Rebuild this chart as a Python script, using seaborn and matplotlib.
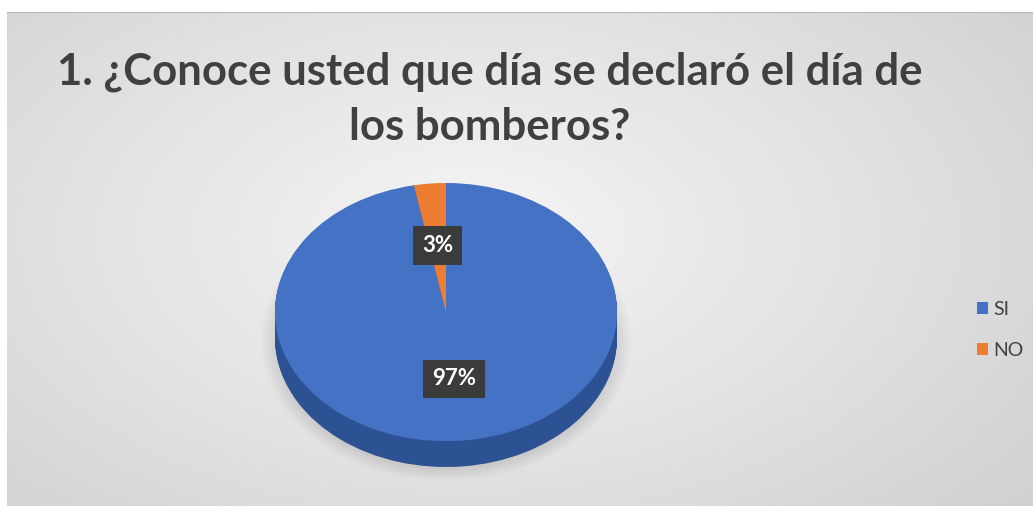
import numpy as np
import seaborn as sns
import matplotlib.pyplot as plt
from matplotlib.patches import Rectangle

# data
categories = ["SI", "NO"]
percentages = [97, 3]
title_lines = ["1. ¿Conoce usted que día se declaró el día de", "los bomberos?"]

sns.set_style("white")
plt.rcParams['font.family'] = ['Lato', 'DejaVu Sans']

colors = sns.color_palette(["#4472C4", "#ED7D31"])
side_colors = sns.color_palette(["#2C5293", "#B35C22"])

W, H = 1033, 507
fig = plt.figure(figsize=(W / 100, H / 100), dpi=100)
fig.patch.set_facecolor("white")

# gradient background of the chart area
bg = fig.add_axes([7 / W, 1 / H, (W - 7) / W, (506 - 12) / H])
yy, xx = np.mgrid[0:1:200j, 0:1:400j]
r = np.sqrt(((xx - 0.45) / 0.75) ** 2 + ((yy - 0.55) / 0.9) ** 2)
shade = 0.96 - 0.15 * np.clip(r, 0, 1.2)
bg.imshow(shade, cmap="gray", vmin=0, vmax=1, aspect="auto",
          extent=[0, 1, 0, 1], origin="lower")
bg.plot([0, 1], [1, 1], color="#b5b5b5", lw=1.5)
bg.set_xlim(0, 1)
bg.set_ylim(0, 1)
bg.axis("off")

# pie axes (elliptical projection)
depth = 0.2
ax = fig.add_axes([275 / W, 40 / H, 342 / W, 284 / H])
ax.set_facecolor("none")

# soft shadow under the pie
for k in range(8):
    ax.pie([1], colors=["#000000"], radius=1.0 + 0.012 * k,
           center=(0, -depth - 0.02), startangle=90,
           wedgeprops=dict(alpha=0.012, linewidth=0))

# side of the cylinder
n_layers = 30
for k in range(n_layers, 0, -1):
    ax.pie(percentages, colors=side_colors, radius=1,
           center=(0, -depth * k / n_layers), startangle=90, counterclock=False,
           wedgeprops=dict(linewidth=0))

# top face
wedges, texts, autotexts = ax.pie(
    percentages, colors=colors, radius=1, center=(0, 0),
    startangle=90, counterclock=False,
    autopct=lambda p: f"{p:.0f}%", pctdistance=0.52,
    wedgeprops=dict(linewidth=0),
    textprops=dict(color="white", fontsize=16, fontweight="bold"))
for t in autotexts:
    t.set_bbox(dict(boxstyle="square,pad=0.4", facecolor="#3b3b3b",
                    edgecolor="none"))

ax.set_aspect("auto")
ax.set_xlim(-1, 1)
ax.set_ylim(-1 - depth, 1)
ax.axis("off")

# title
for line, base in zip(title_lines, [85, 140]):
    fig.text(490 / W, 1 - base / H, line, ha="center", va="baseline",
             fontsize=31.5, fontweight="bold", color="#404040")

# legend
handles = [Rectangle((0, 0), 1, 1, facecolor=c, edgecolor="none") for c in colors]
leg = fig.legend(handles, categories, loc="center left",
                 bbox_to_anchor=(959 / W, 1 - 330 / H), frameon=False,
                 fontsize=14, handlelength=0.6, handleheight=0.6,
                 handletextpad=0.25, labelspacing=1.25)
for t in leg.get_texts():
    t.set_color("#404040")

fig.savefig("out.png", dpi=100)
